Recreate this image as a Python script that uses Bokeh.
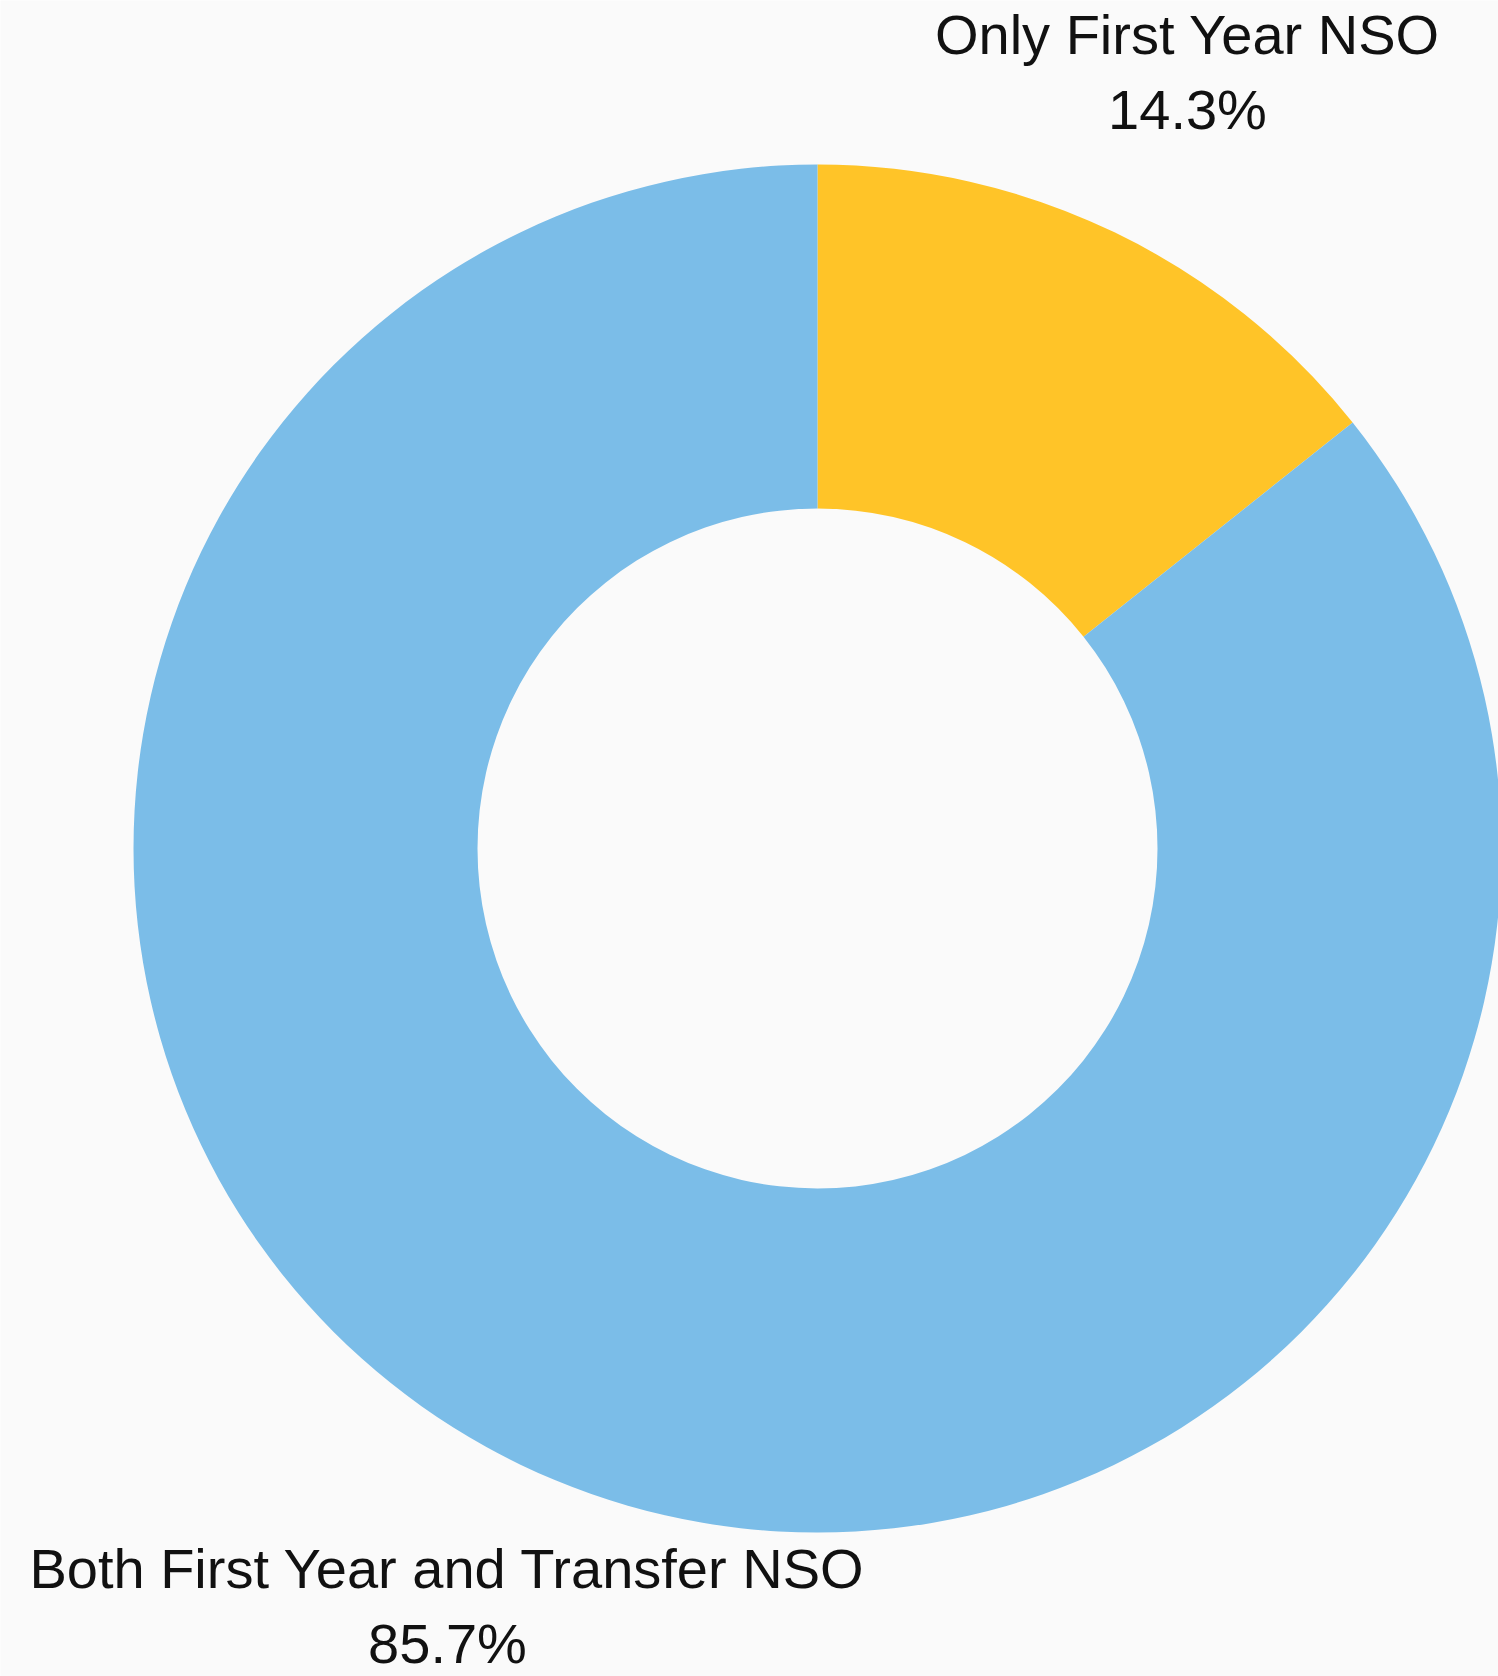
import math
from bokeh.plotting import figure
from bokeh.models import Range1d, ColumnDataSource
from bokeh.core.properties import value
from bokeh.embed import file_html
from bokeh.resources import INLINE

# ---- data ----
categories = ["Only First Year NSO", "Both First Year and Transfer NSO"]
shares = [14.3, 85.7]
pct_labels = ["14.3%", "85.7%"]
colors = ["#ffc428", "#7bbde8"]

# ---- layout (pixel units; data y measured upward) ----
W, H = 1498, 1676
cx_img, cy_img = 817, 848
r_out, r_in = 684, 340
r_label = 852
font_px = 56

def ydata(y_img):
    return H - y_img

p = figure(width=W, height=H, output_backend="svg", toolbar_location=None,
           x_range=Range1d(0, W), y_range=Range1d(0, H),
           min_border=0)
p.axis.visible = False
p.grid.visible = False
p.outline_line_color = None
p.background_fill_color = "#fafafa"
p.border_fill_color = "#fafafa"

total = sum(shares)
starts, ends, mids = [], [], []
a = math.pi / 2
for s in shares:
    sweep = 2 * math.pi * s / total
    starts.append(a)
    ends.append(a - sweep)
    mids.append(a - sweep / 2)
    a -= sweep

src = ColumnDataSource(dict(start=starts, end=ends, color=colors))
p.annular_wedge(x=cx_img, y=ydata(cy_img), inner_radius=r_in, outer_radius=r_out,
                start_angle="start", end_angle="end", direction="clock",
                fill_color="color", line_color=None, source=src)

lx = [cx_img + r_label * math.cos(m) for m in mids]
ly = [ydata(cy_img) + r_label * math.sin(m) for m in mids]

p.text(x=lx, y=[y + 47 for y in ly], text=categories,
       text_font=value("Liberation Sans"), text_font_size=f"{font_px}px",
       text_align="center", text_baseline="alphabetic", text_color="#111111")
p.text(x=lx, y=[y - 28 for y in ly], text=pct_labels,
       text_font=value("Liberation Sans"), text_font_size=f"{font_px}px",
       text_align="center", text_baseline="alphabetic", text_color="#111111")

open("out.html", "w").write(file_html(p, INLINE))
